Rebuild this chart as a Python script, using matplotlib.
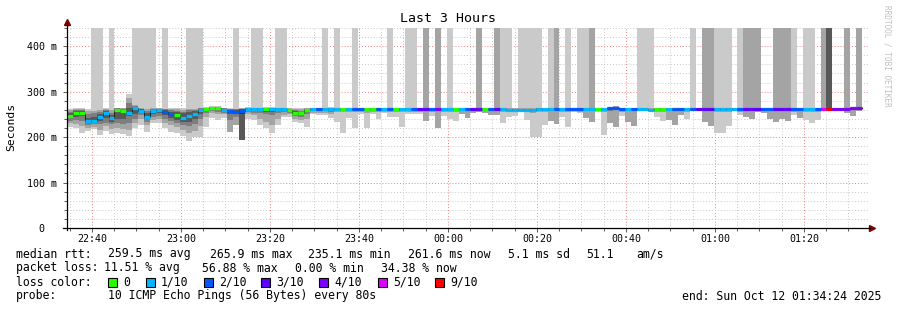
import datetime as dt
import matplotlib
matplotlib.use("Agg")
import matplotlib.pyplot as plt
import matplotlib.dates as mdates
from matplotlib.ticker import MultipleLocator, FuncFormatter
from matplotlib.patches import Rectangle

start = dt.datetime(2025, 10, 11, 22, 34, 24)
end = dt.datetime(2025, 10, 12, 1, 34, 24)
step_s = 80
y_top = 440

# median rtt per 80s step (ms)
median = [246, 252, 253, 236, 236, 244, 252, 241, 259, 257,
          254, 263, 258, 245, 257, 259, 256, 250, 248, 243,
          247, 250, 259, 261, 263, 263, 260, 257, 256, 258,
          261, 261, 261, 261, 261, 261, 261, 259, 252, 252,
          259, 261, 262, 262, 262, 261, 261, 261, 261, 261,
          261, 261, 261, 261, 261, 261, 261, 261, 261, 261,
          261, 261, 261, 261, 261, 261, 261, 261, 261, 261,
          261, 261, 261, 261, 260, 260, 260, 260, 260, 261,
          261, 261, 261, 261, 261, 261, 261, 261, 261, 261,
          261, 263, 265, 261, 261, 261, 261, 261, 260, 261,
          261, 261, 261, 261, 261, 261, 261, 261, 261, 261,
          261, 261, 261, 261, 261, 261, 261, 261, 261, 261,
          261, 261, 261, 261, 261, 261, 261, 261, 261, 261,
          261, 261, 263, 263]

# lost pings (out of 10) per step
loss = [0, 0, 0, 1, 1, 1, 1, 1, 0, 0,
        1, 1, 1, 1, 1, 1, 2, 2, 0, 1,
        1, 1, 1, 0, 0, 0, 1, 2, 2, 2,
        1, 1, 1, 0, 1, 1, 1, 0, 0, 0,
        0, 1, 2, 1, 1, 1, 0, 1, 2, 2,
        0, 0, 2, 1, 2, 0, 1, 1, 2, 3,
        3, 2, 4, 1, 1, 0, 1, 2, 3, 3,
        0, 2, 3, 1, 1, 1, 1, 1, 1, 1,
        1, 1, 2, 1, 2, 2, 2, 1, 1, 0,
        1, 2, 2, 2, 1, 2, 1, 1, 1, 0,
        0, 1, 2, 2, 1, 2, 3, 3, 3, 1,
        1, 1, 1, 2, 3, 3, 3, 2, 2, 3,
        3, 3, 2, 2, 1, 1, 2, 5, 9, 4,
        4, 4, 4, 4]

# sorted pings per step (ms), None = beyond the top of the graph
pings = [
    [223, 230, 236, 241, 244, 248, 252, 256, 259, 262],
    [221, 228, 238, 245, 250, 254, 257, 259, 261, 263],
    [209, 225, 236, 246, 251, 255, 257, 259, 261, 263],
    [214, 220, 226, 231, 234, 238, 243, 250, 257, 262],
    [217, 222, 228, 232, 235, 238, 244, 252, 258, None],
    [204, 216, 228, 236, 242, 246, 250, 256, 260, None],
    [214, 224, 232, 242, 250, 254, 257, 259, 261, 263],
    [206, 218, 228, 234, 239, 243, 248, 254, 259, None],
    [209, 220, 230, 240, 256, 260, 262, 263, 264, 265],
    [206, 218, 228, 240, 254, 258, 260, 262, 263, 264],
    [202, 215, 232, 246, 252, 256, 265, 275, 285, 295],
    [220, 232, 240, 250, 260, 264, 266, 268, 270, None],
    [226, 240, 248, 253, 256, 259, 261, 262, 263, None],
    [212, 226, 234, 240, 244, 247, 252, 257, 261, None],
    [230, 238, 244, 250, 255, 258, 260, 262, 263, None],
    [230, 240, 246, 252, 257, 260, 261, 262, 263, 264],
    [220, 232, 240, 248, 254, 257, 259, 261, 262, None],
    [212, 226, 236, 243, 248, 252, 256, 259, 261, 263],
    [208, 222, 230, 238, 246, 250, 255, 258, 261, 263],
    [202, 216, 226, 234, 241, 245, 252, 256, 260, 263],
    [191, 210, 224, 234, 245, 249, 255, 259, 262, None],
    [200, 214, 228, 240, 248, 252, 257, 260, 262, None],
    [200, 225, 240, 250, 257, 260, 262, 263, 264, None],
    [223, 245, 254, 258, 260, 262, 263, 264, 265, 266],
    [243, 252, 257, 260, 262, 264, 265, 266, 267, 268],
    [238, 250, 256, 259, 262, 264, 265, 266, 267, 268],
    [242, 250, 254, 257, 259, 261, 262, 263, 264, 265],
    [212, 212, 238, 250, 255, 258, 260, 261, 262, 263],
    [226, 226, 244, 250, 254, 258, 260, 261, 262, None],
    [194, 194, 194, 194, 250, 260, 261, 262, 263, 264],
    [240, 250, 255, 258, 260, 262, 263, 264, 265, 266],
    [238, 248, 254, 258, 260, 262, 263, 264, 265, None],
    [226, 240, 252, 257, 260, 262, 263, 264, 265, None],
    [220, 234, 250, 256, 260, 262, 263, 264, 265, 266],
    [209, 226, 248, 256, 260, 262, 263, 264, 265, 266],
    [226, 240, 254, 258, 260, 262, 263, 264, 265, None],
    [244, 248, 255, 258, 260, 262, 263, 264, 265, None],
    [244, 250, 254, 257, 258, 260, 261, 262, 263, 264],
    [233, 240, 246, 250, 252, 254, 257, 259, 261, 263],
    [230, 237, 244, 249, 251, 253, 256, 258, 261, 263],
    [223, 240, 250, 255, 258, 260, 261, 262, 263, 264],
    [251, 254, 257, 259, 260, 262, 263, 263, 264, 265],
    [248, 253, 257, 259, 261, 262, 263, 264, 264, 265],
    [248, 252, 257, 259, 261, 262, 263, 264, 265, None],
    [243, 250, 256, 259, 261, 262, 263, 264, 265, 266],
    [233, 255, 258, 259, 260, 261, 262, 263, 264, None],
    [209, 256, 258, 259, 260, 261, 262, 263, 264, 265],
    [243, 256, 258, 259, 260, 261, 262, 263, 264, 265],
    [221, 255, 258, 259, 260, 261, 262, 263, 264, None],
    [251, 256, 258, 259, 260, 261, 262, 263, 264, 265],
    [221, 254, 258, 259, 260, 261, 262, 263, 264, 265],
    [251, 256, 258, 259, 260, 261, 262, 263, 264, 265],
    [240, 255, 258, 259, 260, 261, 262, 263, 264, 265],
    [253, 256, 258, 259, 260, 261, 262, 263, 264, 265],
    [244, 256, 258, 259, 260, 261, 262, 263, 264, None],
    [244, 256, 258, 259, 260, 261, 262, 263, 264, 265],
    [223, 255, 258, 259, 260, 261, 262, 263, 264, 265],
    [251, 256, 258, 259, 260, 261, 262, 263, 264, None],
    [251, 256, 258, 259, 260, 261, 262, 263, 264, None],
    [250, 255, 258, 259, 260, 261, 262, 263, 264, 265],
    [235, 235, 257, 259, 260, 261, 262, 263, None, None],
    [246, 256, 258, 259, 260, 261, 262, 263, 264, 265],
    [221, 221, 257, 259, 260, 261, 262, 263, None, None],
    [246, 256, 258, 259, 260, 261, 262, 263, 264, 265],
    [240, 255, 258, 259, 260, 261, 262, 263, 264, None],
    [235, 255, 258, 259, 260, 261, 262, 263, 264, 265],
    [250, 250, 258, 259, 260, 261, 262, 263, 264, 265],
    [243, 243, 257, 259, 260, 261, 262, 263, 264, 265],
    [252, 252, 258, 259, 260, 261, 262, 263, 264, 265],
    [255, 256, 258, 259, 260, 261, 262, 263, None, None],
    [254, 254, 258, 259, 260, 261, 262, 263, 264, 265],
    [248, 248, 257, 259, 260, 261, 262, 263, 264, 265],
    [248, 248, 257, 259, 260, 261, 262, 263, None, None],
    [232, 255, 258, 259, 260, 261, 262, 263, 264, None],
    [244, 255, 257, 258, 259, 260, 261, 262, 263, None],
    [246, 255, 257, 258, 259, 260, 261, 262, 263, 264],
    [256, 257, 258, 258, 259, 260, 261, 262, 263, None],
    [238, 255, 257, 258, 259, 260, 261, 262, 263, None],
    [201, 254, 257, 258, 259, 260, 261, 262, 263, None],
    [201, 255, 258, 259, 260, 261, 262, 263, 264, None],
    [226, 255, 258, 259, 260, 261, 262, 263, 264, 265],
    [236, 236, 257, 259, 260, 261, 262, 263, 264, None],
    [229, 229, 257, 259, 260, 261, 262, 263, None, None],
    [244, 256, 258, 259, 260, 261, 262, 263, 264, 265],
    [223, 255, 258, 259, 260, 261, 262, 263, 264, None],
    [256, 257, 258, 259, 260, 261, 262, 263, 264, 265],
    [252, 256, 258, 259, 260, 261, 262, 263, 264, None],
    [241, 241, 257, 259, 260, 261, 262, 263, 264, None],
    [234, 234, 257, 259, 260, 261, 262, 263, None, None],
    [256, 257, 258, 259, 260, 261, 262, 263, 264, 265],
    [204, 255, 258, 259, 260, 261, 262, 263, 264, 265],
    [232, 232, 258, 260, 262, 263, 264, 265, 266, 267],
    [223, 223, 259, 262, 264, 265, 266, 267, 268, 269],
    [247, 256, 258, 259, 260, 261, 262, 263, 264, 265],
    [234, 234, 257, 259, 260, 261, 262, 263, 264, 265],
    [224, 224, 257, 259, 260, 261, 262, 263, 264, 265],
    [257, 257, 258, 259, 260, 261, 262, 263, 264, None],
    [257, 257, 258, 259, 260, 261, 262, 263, 264, None],
    [257, 257, 258, 259, 259, 260, 261, 262, 263, None],
    [244, 256, 258, 259, 260, 261, 262, 263, 264, 265],
    [236, 255, 258, 259, 260, 261, 262, 263, 264, 265],
    [238, 238, 257, 259, 260, 261, 262, 263, 264, 265],
    [226, 226, 257, 259, 260, 261, 262, 263, 264, 265],
    [249, 249, 257, 259, 260, 261, 262, 263, 264, 265],
    [239, 255, 258, 259, 260, 261, 262, 263, 264, 265],
    [257, 257, 258, 259, 260, 261, 262, 263, 264, None],
    [257, 257, 258, 259, 260, 261, 262, 263, 264, 265],
    [234, 234, 257, 259, 260, 261, 262, 263, None, None],
    [224, 224, 257, 259, 260, 261, 262, 263, None, None],
    [209, 255, 258, 259, 260, 261, 262, 263, 264, None],
    [208, 255, 258, 259, 260, 261, 262, 263, 264, None],
    [224, 255, 258, 259, 260, 261, 262, 263, 264, None],
    [257, 257, 258, 259, 260, 261, 262, 263, 264, 265],
    [248, 256, 258, 259, 260, 261, 262, 263, 264, None],
    [245, 245, 257, 259, 260, 261, 262, 263, None, None],
    [240, 240, 257, 259, 260, 261, 262, 263, None, None],
    [255, 255, 258, 259, 260, 261, 262, 263, None, None],
    [254, 254, 258, 259, 260, 261, 262, 263, 264, 265],
    [240, 240, 257, 259, 260, 261, 262, 263, 264, 265],
    [234, 234, 257, 259, 260, 261, 262, 263, None, None],
    [239, 239, 257, 259, 260, 261, 262, 263, None, None],
    [235, 235, 257, 259, 260, 261, 262, 263, None, None],
    [248, 256, 258, 259, 260, 261, 262, 263, 264, None],
    [243, 243, 257, 259, 260, 261, 262, 263, 264, 265],
    [237, 255, 258, 259, 260, 261, 262, 263, 264, None],
    [231, 255, 258, 259, 260, 261, 262, 263, 264, None],
    [238, 255, 258, 259, 260, 261, 262, 263, 264, 265],
    [257, 257, 258, 259, 260, 261, 262, 263, None, None],
    [258, 258, 259, 260, 261, 262, None, None, None, None],
    [257, 257, 258, 259, 260, 261, 262, 263, 264, 265],
    [257, 257, 258, 259, 260, 261, 262, 263, 264, 265],
    [252, 252, 258, 259, 260, 261, 262, 263, None, None],
    [246, 246, 259, 260, 261, 263, 264, 265, 266, 267],
    [258, 258, 260, 261, 262, 263, 264, 265, None, None],
]

loss_levels = [0, 1, 2, 3, 4, 5, 9]
loss_names = ["0", "1/10", "2/10", "3/10", "4/10", "5/10", "9/10"]
loss_colors = ["#26ff00", "#00b8ff", "#0059ff", "#5e00ff", "#7e00ff", "#dd00ff", "#ff0000"]
smoke_grays = ["#cacaca", "#a4a4a4", "#7e7e7e", "#585858", "#323232"]

n = len(median)
assert len(loss) == n and len(pings) == n

W, H = 897, 310
fig = plt.figure(figsize=(W / 100, H / 100), dpi=100)
ax = fig.add_axes([67 / W, (H - 228) / H, 801 / W, 200 / H])

edges = [mdates.date2num(start + dt.timedelta(seconds=step_s * i)) for i in range(n + 1)]

# smoke bands: band k spans ping k .. ping 9-k
for k in range(5):
    lo = [row[k] for row in pings]
    hi = [y_top if row[9 - k] is None else row[9 - k] for row in pings]
    ax.fill_between(edges, lo + [lo[-1]], hi + [hi[-1]], step="post",
                    color=smoke_grays[k], lw=0, zorder=2)

# median: thin dark line plus loss coloured segments
ax.step(edges, median + [median[-1]], where="post", color="#202020", lw=0.7, zorder=3)
seg_colors = [loss_colors[loss_levels.index(v)] for v in loss]
ax.hlines(median, edges[:-1], edges[1:], colors=seg_colors, lw=2.3, zorder=4,
          capstyle="butt")

ax.set_xlim(mdates.date2num(start), mdates.date2num(end))
ax.set_ylim(0, y_top)

ax.xaxis.set_major_locator(mdates.MinuteLocator(byminute=[0, 20, 40]))
ax.xaxis.set_minor_locator(mdates.MinuteLocator(byminute=range(0, 60, 5)))
ax.xaxis.set_major_formatter(mdates.DateFormatter("%H:%M"))
ax.yaxis.set_major_locator(MultipleLocator(100))
ax.yaxis.set_minor_locator(MultipleLocator(20))
ax.yaxis.set_major_formatter(FuncFormatter(lambda v, p: "0  " if v == 0 else f"{int(v)} m"))

ax.grid(which="minor", color="#c8c8c8", linestyle=(0, (1, 2)), lw=0.7, zorder=0)
ax.grid(which="major", color="#f08080", linestyle=(0, (1, 2)), lw=0.7, zorder=1)
ax.set_axisbelow(True)

mono = "DejaVu Sans Mono"
for s in ax.spines.values():
    s.set_visible(False)
ax.tick_params(which="both", colors="#404040", labelcolor="black", width=0.6)
ax.tick_params(which="major", length=3, direction="out")
ax.tick_params(which="minor", length=2, direction="out")
ax.tick_params(axis="x", pad=1.5, labelsize=7.2)
ax.tick_params(axis="y", pad=4, labelsize=7.2)
for lab in ax.get_xticklabels() + ax.get_yticklabels():
    lab.set_family(mono)

# axis lines with arrow heads
ax.plot([0, 0], [-0.01, 1.025], transform=ax.transAxes, color="black", lw=0.9,
        clip_on=False, zorder=5)
ax.plot([-0.005, 1.003], [0, 0], transform=ax.transAxes, color="black", lw=0.9,
        clip_on=False, zorder=5)
ax.plot(0, 1.03, marker="^", ms=4, color="#800000", transform=ax.transAxes, clip_on=False)
ax.plot(1.005, 0, marker=">", ms=4, color="#800000", transform=ax.transAxes, clip_on=False)


def put(x, y, s, **kw):
    kw.setdefault("family", mono)
    kw.setdefault("size", 8.3)
    kw.setdefault("va", "center")
    fig.text(x / W, 1 - y / H, s, **kw)


put(448, 19, "Last 3 Hours", size=9.5, ha="center")
put(11, 127, "Seconds", size=8.2, ha="center", rotation=90)
put(887, 5, "RRDTOOL / TOBI OETIKER", size=5.6, ha="center", va="top",
    rotation=270, color="#c0c0c0")

put(16, 254, "median rtt:")
for x, s in [(108, "259.5 ms avg"), (210, "265.9 ms max"), (308, "235.1 ms min"),
             (408, "261.6 ms now"), (508, "5.1 ms sd"), (586, "51.1"), (636, "am/s")]:
    put(x, 254, s)

put(16, 268, "packet loss:")
for x, s in [(104, "11.51 % avg"), (202, "56.88 % max"), (295, "0.00 % min"),
             (381, "34.38 % now")]:
    put(x, 268, s)

put(16, 282, "loss color:")
box_x = [108, 146, 204, 261, 319, 378, 435]
for bx, name, col in zip(box_x, loss_names, loss_colors):
    fig.patches.append(Rectangle((bx / W, 1 - 287 / H), 9 / W, 9.5 / H,
                                 transform=fig.transFigure, facecolor=col,
                                 edgecolor="black", lw=0.8))
    put(bx + 15, 282, name)

put(16, 296, "probe:")
put(108, 296, "10 ICMP Echo Pings (56 Bytes) every 80s")
put(881, 296, "end: Sun Oct 12 01:34:24 2025", ha="right")

fig.savefig("out.png", dpi=100)
